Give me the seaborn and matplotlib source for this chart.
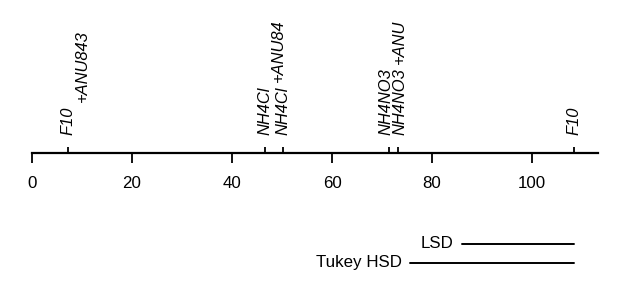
import matplotlib
matplotlib.use("Agg")
import matplotlib.pyplot as plt
import seaborn as sns
import pandas as pd

# data
treatments = ["F10 +ANU843", "NH4Cl +ANU84", "NH4Cl", "NH4NO3 +ANU", "NH4NO3", "F10"]
means = [7.2, 46.5, 50.1, 71.3, 73.1, 108.3]
x_ticks = [0, 20, 40, 60, 80, 100]
axis_max = 113.2
ref_names = ["LSD", "Tukey HSD"]
ref_widths = [22.4, 32.8]

sns.set_theme(style="white")
plt.rcParams["font.family"] = ["Liberation Sans", "DejaVu Sans"]

FS = 12.2
FS_LAB = 11.9
PX = 0.72  # points per pixel at 100 dpi

fig = plt.figure(figsize=(6.4, 3.05), dpi=100)
W, H = 640, 305
x0, x1 = 32, 598
axis_y = 153
px_per_unit = (x1 - x0) / axis_max

ax = fig.add_axes([x0 / W, 1 - axis_y / H, (x1 - x0) / W, axis_y / H])
ax.set_xlim(0, axis_max)
ax.set_ylim(0, 1)
for s in ["top", "left", "right"]:
    ax.spines[s].set_visible(False)
ax.spines["bottom"].set_linewidth(1.6)
ax.spines["bottom"].set_color("black")
ax.set_yticks([])
ax.set_xticks(x_ticks)
ax.set_xticklabels([str(t) for t in x_ticks], fontsize=FS, color="black")
ax.set_xticks(means, minor=True)
ax.tick_params(axis="x", which="major", direction="out", length=7.2, width=1.3,
               color="black", pad=9.5, bottom=True)
ax.tick_params(axis="x", which="minor", direction="in", length=4.3, width=1.3,
               color="black", bottom=True)
ax.patch.set_alpha(0)

# spread labels that sit too close so they don't overlap
min_gap = 14.5 / px_per_unit
label_pos = list(means)
for i in range(1, len(label_pos)):
    d = label_pos[i] - label_pos[i - 1]
    if d < min_gap:
        mid = (label_pos[i] + label_pos[i - 1]) / 2
        label_pos[i - 1] = mid - min_gap / 2
        label_pos[i] = mid + min_gap / 2

for name, m, lp in zip(treatments, means, label_pos):
    parts = name.split(" ", 1)
    dx_px = (lp - m) * px_per_unit
    base = ax.annotate(parts[0], xy=(m, 0), xycoords=("data", "axes fraction"),
                       xytext=(dx_px * PX, 18 * PX), textcoords="offset points",
                       rotation=90, rotation_mode="anchor", ha="left", va="center",
                       fontsize=FS_LAB, style="italic", color="black",
                       annotation_clip=False)
    if len(parts) > 1:
        ax.annotate(parts[1], xy=(0.5, 1), xycoords=base,
                    xytext=(14 * PX, 4.5 * PX), textcoords="offset points",
                    rotation=90, rotation_mode="anchor", ha="left", va="center",
                    fontsize=FS_LAB, style="italic", color="black",
                    annotation_clip=False)

# reference bars below
ax2 = fig.add_axes([x0 / W, 0, (x1 - x0) / W, 0.45])
rows = [244, 263]
top = max(means)
for name, w, r in zip(ref_names, ref_widths, rows):
    df = pd.DataFrame({"x": [top - w, top], "y": [r, r]})
    sns.lineplot(data=df, x="x", y="y", color="black", linewidth=1.4, ax=ax2)
    ax2.text(top - w - 1.6, r, name, ha="right", va="center", fontsize=FS, color="black")
ax2.set_xlim(0, axis_max)
ax2.set_ylim(305, 305 - 0.45 * 305)
ax2.axis("off")

fig.savefig("out.png", dpi=100)
